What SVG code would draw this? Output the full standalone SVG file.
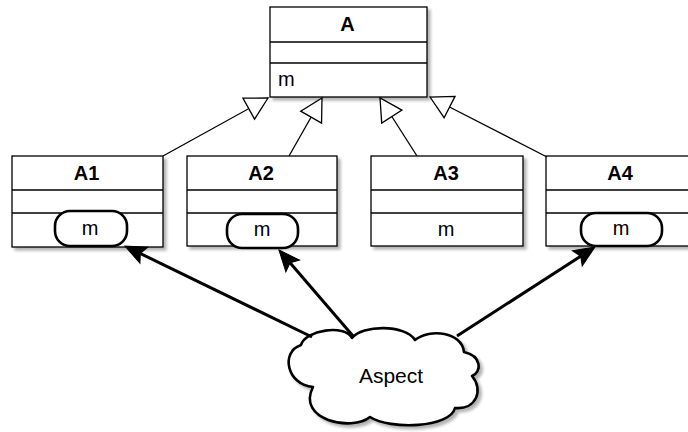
<svg xmlns="http://www.w3.org/2000/svg" width="688" height="432" viewBox="0 0 688 432">
  <defs>
    <filter id="shadow" x="-10%" y="-10%" width="130%" height="130%">
      <feGaussianBlur in="SourceAlpha" stdDeviation="1.5"/>
      <feOffset dx="3" dy="3" result="off"/>
      <feComponentTransfer><feFuncA type="linear" slope="0.3"/></feComponentTransfer>
      <feMerge><feMergeNode/><feMergeNode in="SourceGraphic"/></feMerge>
    </filter>
    <!-- hollow generalization head -->
    <marker id="inherit" markerUnits="userSpaceOnUse" viewBox="-24 -14 26 28" refX="0" refY="0" markerWidth="26" markerHeight="28" orient="auto" overflow="visible">
      <path d="M0,0 L-22,-12 L-22,12 Z" fill="#fff" stroke="#000" stroke-width="1.3" stroke-linejoin="miter"/>
    </marker>
    <!-- filled dependency head -->
    <marker id="block" markerUnits="userSpaceOnUse" viewBox="-23 -11 25 22" refX="-12" refY="0" markerWidth="25" markerHeight="22" orient="auto" overflow="visible">
      <path d="M0,0 L-21,-9 L-17,0 L-21,9 Z" fill="#000" stroke="#000" stroke-width="1" stroke-linejoin="miter"/>
    </marker>
  </defs>
  <style>
    .box { fill: #fff; stroke: #000; stroke-width: 1.3; }
    .sep { stroke: #000; stroke-width: 1.3; fill: none; }
    .pill { fill: #fff; stroke: #000; stroke-width: 2.6; }
    .hdr { font-family: "Liberation Sans", Arial, sans-serif; font-weight: bold; font-size: 20px; text-anchor: middle; fill: #000; }
    .txt { font-family: "Liberation Sans", Arial, sans-serif; font-size: 20px; fill: #000; }
    .mid { text-anchor: middle; }
    .big { font-size: 21px; }
    .gen { stroke: #000; stroke-width: 1.3; fill: none; marker-end: url(#inherit); }
    .dep { stroke: #000; stroke-width: 3; fill: none; marker-end: url(#block); }
    .cloud { fill: #fff; stroke: #000; stroke-width: 2.6; stroke-linejoin: round; }
  </style>

  <!-- superclass -->
  <g id="A">
    <rect class="box" x="270" y="7" width="157" height="90" filter="url(#shadow)"/>
    <line class="sep" x1="270" y1="42" x2="427" y2="42"/>
    <line class="sep" x1="270" y1="63" x2="427" y2="63"/>
    <text class="hdr" x="347.5" y="31">A</text>
    <text class="txt" x="278" y="86">m</text>
  </g>

  <!-- subclasses -->
  <g id="A1">
    <rect class="box" x="12" y="156" width="151" height="91" filter="url(#shadow)"/>
    <line class="sep" x1="12" y1="190" x2="163" y2="190"/>
    <line class="sep" x1="12" y1="213" x2="163" y2="213"/>
    <text class="hdr" x="86.5" y="180">A1</text>
    <rect class="pill" x="55" y="211" width="72" height="35" rx="15" ry="15"/>
    <text class="txt mid" x="90" y="235">m</text>
  </g>

  <g id="A2">
    <rect class="box" x="187" y="156" width="150" height="90" filter="url(#shadow)"/>
    <line class="sep" x1="187" y1="190" x2="337" y2="190"/>
    <line class="sep" x1="187" y1="213" x2="337" y2="213"/>
    <text class="hdr" x="261" y="180">A2</text>
    <rect class="pill" x="227" y="214" width="71" height="34" rx="15" ry="15"/>
    <text class="txt mid" x="262" y="236">m</text>
  </g>

  <g id="A3">
    <rect class="box" x="371" y="156" width="152" height="90" filter="url(#shadow)"/>
    <line class="sep" x1="371" y1="190" x2="523" y2="190"/>
    <line class="sep" x1="371" y1="213" x2="523" y2="213"/>
    <text class="hdr" x="446" y="180">A3</text>
    <text class="txt mid" x="446" y="236">m</text>
  </g>

  <g id="A4">
    <rect class="box" x="546" y="156" width="151" height="90" filter="url(#shadow)"/>
    <line class="sep" x1="546" y1="190" x2="697" y2="190"/>
    <line class="sep" x1="546" y1="213" x2="697" y2="213"/>
    <text class="hdr" x="620" y="180">A4</text>
    <rect class="pill" x="581" y="213" width="81" height="33" rx="15" ry="15"/>
    <text class="txt mid" x="621" y="235">m</text>
  </g>

  <!-- aspect cloud -->
  <g id="Aspect">
    <path class="cloud" filter="url(#shadow)" d="M301,345
      C305,330 345,324 352,338
      C362,325 405,324 415,340
      C430,328 462,332 464,352
      C482,356 482,372 472,376
      C484,390 476,410 455,408
      C450,428 390,430 370,417
      C352,432 296,420 313,387
      C287,385 280,352 301,345 Z"/>
    <text class="txt mid big" x="391" y="383">Aspect</text>
  </g>

  <!-- connectors -->
  <g id="connectors">
    <path class="gen" d="M163,156 L268,98"/>
    <path class="gen" d="M289,156 L322,98"/>
    <path class="gen" d="M417,156 L380,98"/>
    <path class="gen" d="M547,157 L430,97"/>
    <path class="dep" d="M312,337 L135.8,251.3"/>
    <path class="dep" d="M353,336 L286.8,259.1"/>
    <path class="dep" d="M457,336 L584.9,253.5"/>
  </g>
</svg>
